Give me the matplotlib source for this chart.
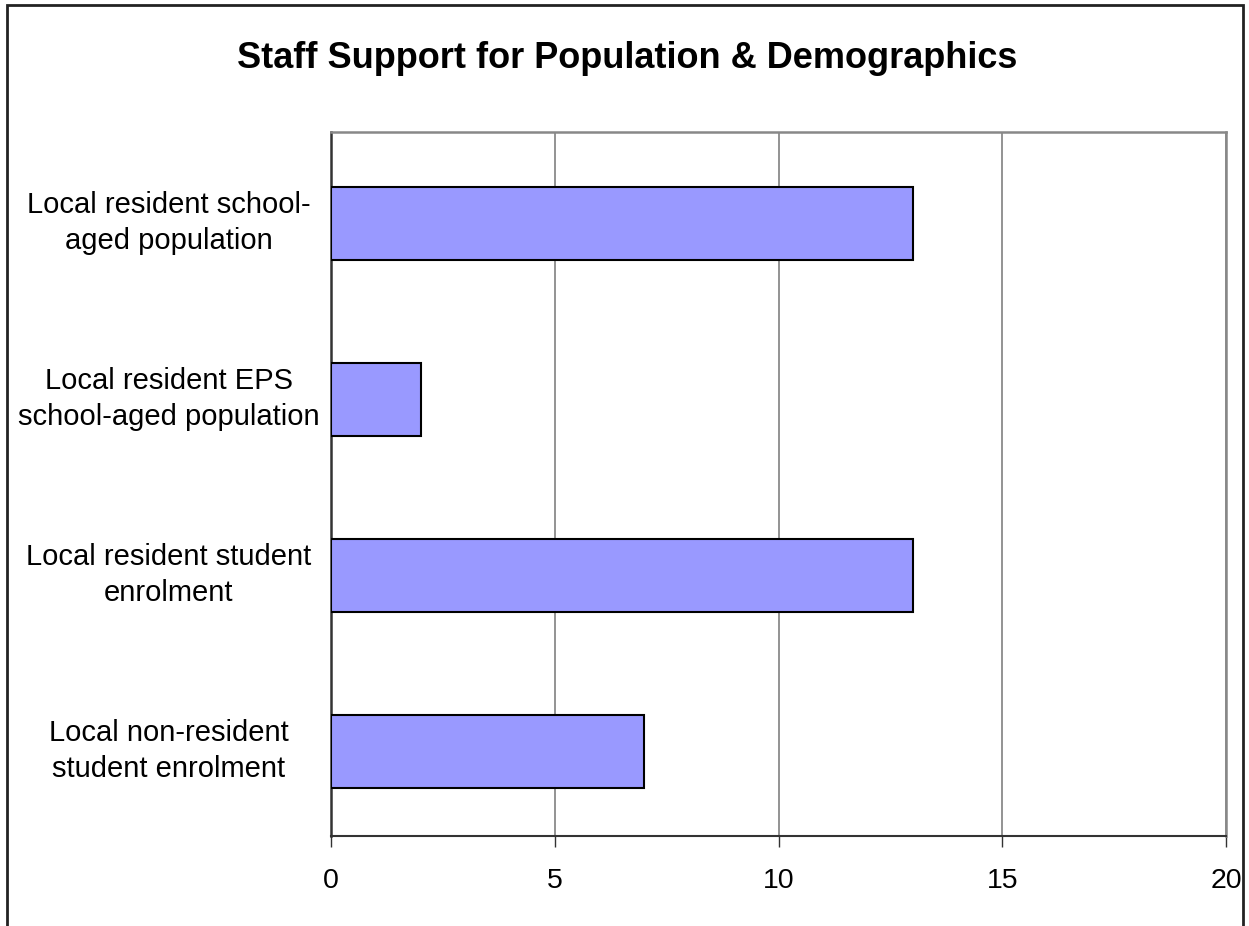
import matplotlib.pyplot as plt
import matplotlib.transforms as mtransforms
from matplotlib.patches import Rectangle

plt.rcParams['font.family'] = ['Liberation Sans', 'DejaVu Sans']

categories = ['Local resident school-\naged population',
              'Local resident EPS\nschool-aged population',
              'Local resident student\nenrolment',
              'Local non-resident\nstudent enrolment']
values = [13, 2, 13, 7]
x_ticks = [0, 5, 10, 15, 20]

fig = plt.figure(figsize=(12.49, 9.26), dpi=100)
ax = fig.add_axes([331/1249, 1 - 836/926, (1226-331)/1249, (836-132)/926])

ypos = list(range(len(categories)))
ax.barh(ypos, values, height=0.41, color='#9999FF', edgecolor='black',
        linewidth=1.5, zorder=3)

ax.set_xlim(0, 20)
ax.set_ylim(len(categories) - 0.52, -0.52)
ax.set_xticks(x_ticks)
ax.set_xticklabels([str(t) for t in x_ticks], fontsize=20.5)
ax.set_yticks(ypos)
ax.set_yticklabels(categories, fontsize=21, ha='center', multialignment='center',
                   linespacing=1.4)
ax.tick_params(axis='y', length=0, pad=117)
ax.tick_params(axis='x', length=8, width=1, color='#333333', pad=15)

# nudge the category labels up a little
shift = mtransforms.ScaledTranslation(0, 8/100, fig.dpi_scale_trans)
for lbl in ax.get_yticklabels():
    lbl.set_transform(lbl.get_transform() + shift)

ax.grid(axis='x', color='#808080', linewidth=1.2, zorder=0)
ax.grid(axis='y', visible=False)
for side in ['top', 'right']:
    ax.spines[side].set_color('#888888')
    ax.spines[side].set_linewidth(1.8)
ax.spines['left'].set_color('#333333')
ax.spines['left'].set_linewidth(1.8)
ax.spines['bottom'].set_color('#333333')
ax.spines['bottom'].set_linewidth(1.5)

fig.text(627/1249, 1 - 58/926, 'Staff Support for Population & Demographics',
         ha='center', va='center', fontsize=26, fontweight='bold')

# outer border (bottom edge cropped off in the original)
fig.patches.append(Rectangle((7/1249, -0.01), (1243-7)/1249, 1.01 - 5/926,
                             transform=fig.transFigure, fill=False,
                             edgecolor='#222222', linewidth=2))

fig.savefig('out.png', dpi=100)
